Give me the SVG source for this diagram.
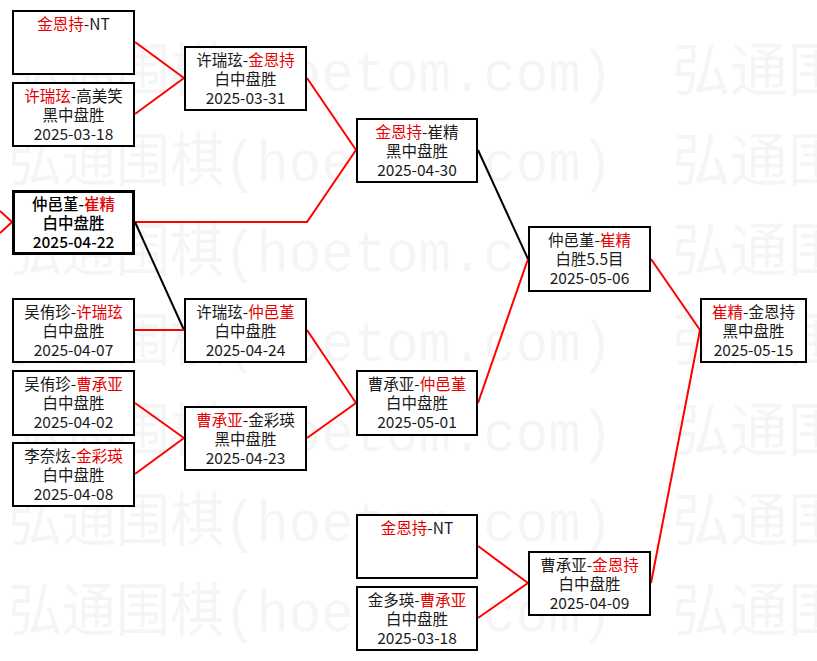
<svg xmlns="http://www.w3.org/2000/svg" width="817" height="661" viewBox="0 0 817 661">
<style>
.wm{font-family:"Liberation Mono","Noto Sans CJK SC",monospace;font-size:58px;fill:#000;fill-opacity:0.04}
.box{fill:#fff;stroke:#000;stroke-width:2}
.thick{stroke-width:3}
.t{font-family:"Noto Sans CJK SC","Noto Sans",sans-serif;font-size:15.5px;fill:#1a1a1a;text-anchor:middle}
.b{font-weight:500;fill:#000}
.w{fill:#e60000}
.r{stroke:#f00;stroke-width:2;fill:none}
.k{stroke:#000;stroke-width:2;fill:none}
</style>
<rect width="817" height="661" fill="#fff"/>
<g id="watermark">
<text class="wm" x="8" y="91" textLength="605" lengthAdjust="spacingAndGlyphs">弘通围棋(hoetom.com)</text>
<text class="wm" x="672" y="91">弘通围</text>
<text class="wm" x="8" y="181" textLength="605" lengthAdjust="spacingAndGlyphs">弘通围棋(hoetom.com)</text>
<text class="wm" x="672" y="181">弘通围</text>
<text class="wm" x="8" y="271" textLength="605" lengthAdjust="spacingAndGlyphs">弘通围棋(hoetom.com)</text>
<text class="wm" x="672" y="271">弘通围</text>
<text class="wm" x="8" y="361" textLength="605" lengthAdjust="spacingAndGlyphs">弘通围棋(hoetom.com)</text>
<text class="wm" x="672" y="361">弘通围</text>
<text class="wm" x="8" y="451" textLength="605" lengthAdjust="spacingAndGlyphs">弘通围棋(hoetom.com)</text>
<text class="wm" x="672" y="451">弘通围</text>
<text class="wm" x="8" y="541" textLength="605" lengthAdjust="spacingAndGlyphs">弘通围棋(hoetom.com)</text>
<text class="wm" x="672" y="541">弘通围</text>
<text class="wm" x="8" y="631" textLength="605" lengthAdjust="spacingAndGlyphs">弘通围棋(hoetom.com)</text>
<text class="wm" x="672" y="631">弘通围</text>
</g>
<g id="connectors">
<polyline class="r" points="0,211 12,222 0,233"/>
<line class="r" x1="135" y1="42" x2="184" y2="78"/>
<line class="r" x1="135" y1="114" x2="184" y2="78"/>
<line class="r" x1="307" y1="78" x2="356" y2="150"/>
<polyline class="r" points="135,222 307,222 356,150"/>
<line class="k" x1="135" y1="222" x2="184" y2="330"/>
<line class="r" x1="135" y1="330" x2="184" y2="330"/>
<line class="r" x1="307" y1="330" x2="356" y2="403"/>
<line class="r" x1="135" y1="403" x2="184" y2="438"/>
<line class="r" x1="135" y1="474" x2="184" y2="438"/>
<line class="r" x1="307" y1="438" x2="356" y2="403"/>
<line class="k" x1="478" y1="150" x2="528" y2="259"/>
<line class="r" x1="478" y1="403" x2="528" y2="259"/>
<line class="r" x1="651" y1="259" x2="700" y2="330"/>
<line class="r" x1="478" y1="546" x2="528" y2="583"/>
<line class="r" x1="478" y1="618" x2="528" y2="583"/>
<line class="r" x1="651" y1="583" x2="700" y2="330"/>
</g>
<g id="n1"><rect class="box" x="13" y="11" width="121" height="63"/>
<text class="t" x="73.5" y="30"><tspan class="w">金恩持</tspan>-NT</text></g>
<g id="n2"><rect class="box" x="13" y="83" width="121" height="63"/>
<text class="t" x="73.5" y="102"><tspan class="w">许瑞玹</tspan>-高美笑</text>
<text class="t" x="73.5" y="121">黑中盘胜</text>
<text class="t" x="73.5" y="140">2025-03-18</text></g>
<g id="n3"><rect class="box" x="185" y="47" width="121" height="63"/>
<text class="t" x="245.5" y="66">许瑞玹-<tspan class="w">金恩持</tspan></text>
<text class="t" x="245.5" y="85">白中盘胜</text>
<text class="t" x="245.5" y="104">2025-03-31</text></g>
<g id="n4"><rect class="box thick" x="13.5" y="191.5" width="120" height="62"/>
<text class="t b" x="73.5" y="210">仲邑堇-<tspan class="w">崔精</tspan></text>
<text class="t b" x="73.5" y="229">白中盘胜</text>
<text class="t b" x="73.5" y="248">2025-04-22</text></g>
<g id="n5"><rect class="box" x="13" y="299" width="121" height="63"/>
<text class="t" x="73.5" y="318">吴侑珍-<tspan class="w">许瑞玹</tspan></text>
<text class="t" x="73.5" y="337">白中盘胜</text>
<text class="t" x="73.5" y="356">2025-04-07</text></g>
<g id="n6"><rect class="box" x="185" y="299" width="121" height="63"/>
<text class="t" x="245.5" y="318">许瑞玹-<tspan class="w">仲邑堇</tspan></text>
<text class="t" x="245.5" y="337">白中盘胜</text>
<text class="t" x="245.5" y="356">2025-04-24</text></g>
<g id="n7"><rect class="box" x="13" y="371" width="121" height="64"/>
<text class="t" x="73.5" y="390">吴侑珍-<tspan class="w">曹承亚</tspan></text>
<text class="t" x="73.5" y="409">白中盘胜</text>
<text class="t" x="73.5" y="428">2025-04-02</text></g>
<g id="n8"><rect class="box" x="13" y="443" width="121" height="63"/>
<text class="t" x="73.5" y="462">李奈炫-<tspan class="w">金彩瑛</tspan></text>
<text class="t" x="73.5" y="481">白中盘胜</text>
<text class="t" x="73.5" y="500">2025-04-08</text></g>
<g id="n9"><rect class="box" x="185" y="407" width="121" height="63"/>
<text class="t" x="245.5" y="426"><tspan class="w">曹承亚</tspan>-金彩瑛</text>
<text class="t" x="245.5" y="445">黑中盘胜</text>
<text class="t" x="245.5" y="464">2025-04-23</text></g>
<g id="n10"><rect class="box" x="357" y="119" width="120" height="63"/>
<text class="t" x="417" y="138"><tspan class="w">金恩持</tspan>-崔精</text>
<text class="t" x="417" y="157">黑中盘胜</text>
<text class="t" x="417" y="176">2025-04-30</text></g>
<g id="n11"><rect class="box" x="357" y="371" width="120" height="64"/>
<text class="t" x="417" y="390">曹承亚-<tspan class="w">仲邑堇</tspan></text>
<text class="t" x="417" y="409">白中盘胜</text>
<text class="t" x="417" y="428">2025-05-01</text></g>
<g id="n12"><rect class="box" x="529" y="227" width="121" height="64"/>
<text class="t" x="589.5" y="246">仲邑堇-<tspan class="w">崔精</tspan></text>
<text class="t" x="589.5" y="265">白胜5.5目</text>
<text class="t" x="589.5" y="284">2025-05-06</text></g>
<g id="n13"><rect class="box" x="357" y="515" width="120" height="63"/>
<text class="t" x="417" y="534"><tspan class="w">金恩持</tspan>-NT</text></g>
<g id="n14"><rect class="box" x="357" y="587" width="120" height="63"/>
<text class="t" x="417" y="606">金多瑛-<tspan class="w">曹承亚</tspan></text>
<text class="t" x="417" y="625">白中盘胜</text>
<text class="t" x="417" y="644">2025-03-18</text></g>
<g id="n15"><rect class="box" x="529" y="552" width="121" height="63"/>
<text class="t" x="589.5" y="571">曹承亚-<tspan class="w">金恩持</tspan></text>
<text class="t" x="589.5" y="590">白中盘胜</text>
<text class="t" x="589.5" y="609">2025-04-09</text></g>
<g id="n16"><rect class="box" x="701" y="299" width="105" height="63"/>
<text class="t" x="753.5" y="318"><tspan class="w">崔精</tspan>-金恩持</text>
<text class="t" x="753.5" y="337">黑中盘胜</text>
<text class="t" x="753.5" y="356">2025-05-15</text></g>
</svg>
